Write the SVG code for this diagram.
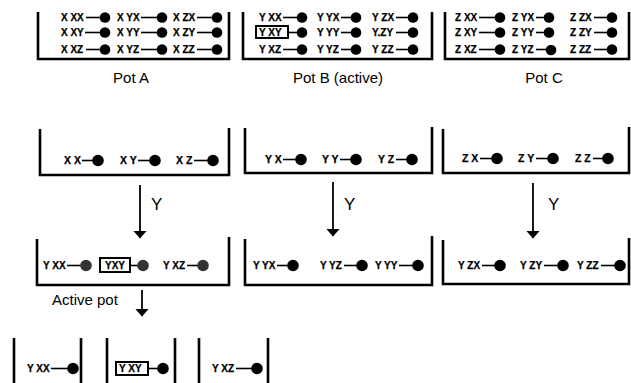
<svg xmlns="http://www.w3.org/2000/svg" width="631" height="383" viewBox="0 0 631 383">
<style>
.wall{fill:none;stroke:#000;stroke-width:2.6}
.t{font-family:"Liberation Sans",Arial,sans-serif;font-weight:bold;font-size:10px;fill:#000;stroke:#000;stroke-width:0.25}
.m{font-size:10.5px}
.ln{stroke:#000;stroke-width:1.6}
.dot{fill:#000}
.gdot{fill:#333}
.box{fill:none;stroke:#000;stroke-width:2}
.cap{font-family:"Liberation Sans",Arial,sans-serif;font-size:15px;fill:#000}
.yl{font-family:"Liberation Sans",Arial,sans-serif;font-size:17px;fill:#000}
.arr{stroke:#000;stroke-width:1.8}
</style>
<defs>
<marker id="ah" viewBox="0 0 8 14" refX="7.5" refY="7" markerWidth="8" markerHeight="14" markerUnits="userSpaceOnUse" orient="auto">
<path d="M0,0 L8,7 L0,14 Z" fill="#000"/>
</marker>
</defs>
<rect width="631" height="383" fill="#fff"/>

<!-- Pot A -->
<g id="potA">
<path class="wall" d="M38,12 V59 H229 V12"/>
<text class="t" x="61" y="21">X XX</text><line class="ln" x1="86" y1="17.5" x2="105" y2="17.5"/><circle class="dot" cx="105" cy="17.5" r="5.3"/>
<text class="t" x="61" y="36">X XY</text><line class="ln" x1="85" y1="32.5" x2="105" y2="32.5"/><circle class="dot" cx="105" cy="32.5" r="5.3"/>
<text class="t" x="61" y="53">X XZ</text><line class="ln" x1="86" y1="49.5" x2="105" y2="49.5"/><circle class="dot" cx="105" cy="49.5" r="5.3"/>
<text class="t" x="117" y="21">X YX</text><line class="ln" x1="141" y1="17.5" x2="162" y2="17.5"/><circle class="dot" cx="162" cy="17.5" r="5.3"/>
<text class="t" x="117" y="36">X YY</text><line class="ln" x1="141" y1="32.5" x2="162" y2="32.5"/><circle class="dot" cx="162" cy="32.5" r="5.3"/>
<text class="t" x="117" y="53">X YZ</text><line class="ln" x1="141" y1="49.5" x2="162" y2="49.5"/><circle class="dot" cx="162" cy="49.5" r="5.3"/>
<text class="t" x="173" y="21">X ZX</text><line class="ln" x1="197" y1="17.5" x2="217" y2="17.5"/><circle class="dot" cx="217" cy="17.5" r="5.3"/>
<text class="t" x="173" y="36">X ZY</text><line class="ln" x1="197" y1="32.5" x2="217" y2="32.5"/><circle class="dot" cx="217" cy="32.5" r="5.3"/>
<text class="t" x="173" y="53">X ZZ</text><line class="ln" x1="197" y1="49.5" x2="217" y2="49.5"/><circle class="dot" cx="217" cy="49.5" r="5.3"/>
<text class="cap" x="131" y="83" text-anchor="middle">Pot A</text>
</g>

<!-- Pot B -->
<g id="potB">
<path class="wall" d="M243,12 V59 H432 V12"/>
<text class="t" x="259" y="21">Y XX</text><line class="ln" x1="283" y1="17.5" x2="302" y2="17.5"/><circle class="dot" cx="302" cy="17.5" r="5.3"/>
<rect class="box" x="256" y="26" width="32" height="12"/>
<text class="t" x="259" y="36">Y XY</text><line class="ln" x1="289" y1="32.5" x2="302" y2="32.5"/><circle class="dot" cx="302" cy="32.5" r="5.3"/>
<text class="t" x="259" y="53">Y XZ</text><line class="ln" x1="283" y1="49.5" x2="302" y2="49.5"/><circle class="dot" cx="302" cy="49.5" r="5.3"/>
<text class="t" x="317" y="21">Y YX</text><line class="ln" x1="341" y1="17.5" x2="356" y2="17.5"/><circle class="dot" cx="356" cy="17.5" r="5.3"/>
<text class="t" x="317" y="36">Y YY</text><line class="ln" x1="341" y1="32.5" x2="356" y2="32.5"/><circle class="dot" cx="356" cy="32.5" r="5.3"/>
<text class="t" x="317" y="53">Y YZ</text><line class="ln" x1="341" y1="49.5" x2="356" y2="49.5"/><circle class="dot" cx="356" cy="49.5" r="5.3"/>
<text class="t" x="372" y="21">Y ZX</text><line class="ln" x1="396" y1="17.5" x2="413" y2="17.5"/><circle class="dot" cx="413" cy="17.5" r="5.3"/>
<text class="t" x="372" y="36">Y.ZY</text><line class="ln" x1="396" y1="32.5" x2="413" y2="32.5"/><circle class="dot" cx="413" cy="32.5" r="5.3"/>
<text class="t" x="372" y="53">Y ZZ</text><line class="ln" x1="396" y1="49.5" x2="413" y2="49.5"/><circle class="dot" cx="413" cy="49.5" r="5.3"/>
<text class="cap" x="338" y="83" text-anchor="middle">Pot B (active)</text>
</g>

<!-- Pot C -->
<g id="potC">
<path class="wall" d="M445,12 V59 H629 V12"/>
<text class="t" x="455" y="21">Z XX</text><line class="ln" x1="479" y1="17.5" x2="500" y2="17.5"/><circle class="dot" cx="500" cy="17.5" r="5.3"/>
<text class="t" x="455" y="36">Z XY</text><line class="ln" x1="479" y1="32.5" x2="500" y2="32.5"/><circle class="dot" cx="500" cy="32.5" r="5.3"/>
<text class="t" x="455" y="53">Z XZ</text><line class="ln" x1="479" y1="49.5" x2="500" y2="49.5"/><circle class="dot" cx="500" cy="49.5" r="5.3"/>
<text class="t" x="512" y="21">Z YX</text><line class="ln" x1="536" y1="17.5" x2="549" y2="17.5"/><circle class="dot" cx="549" cy="17.5" r="5.3"/>
<text class="t" x="512" y="36">Z YY</text><line class="ln" x1="536" y1="32.5" x2="549" y2="32.5"/><circle class="dot" cx="549" cy="32.5" r="5.3"/>
<text class="t" x="512" y="53">Z YZ</text><line class="ln" x1="536" y1="49.5" x2="551" y2="49.5"/><circle class="dot" cx="551" cy="50" r="5.3"/>
<text class="t" x="570" y="21">Z ZX</text><line class="ln" x1="594" y1="17.5" x2="612" y2="17.5"/><circle class="dot" cx="612" cy="17.5" r="5.3"/>
<text class="t" x="570" y="36">Z ZY</text><line class="ln" x1="594" y1="32.5" x2="612" y2="32.5"/><circle class="dot" cx="612" cy="32.5" r="5.3"/>
<text class="t" x="570" y="53">Z ZZ</text><line class="ln" x1="594" y1="49.5" x2="612" y2="49.5"/><circle class="dot" cx="612" cy="49.5" r="5.3"/>
<text class="cap" x="544" y="83" text-anchor="middle">Pot C</text>
</g>

<!-- Middle row -->
<g id="potX">
<path class="wall" d="M40,129 V175 H229 V128"/>
<text class="t m" x="64" y="164">X X</text><line class="ln" x1="82" y1="160.5" x2="98" y2="160.5"/><circle class="dot" cx="98" cy="160.5" r="5.8"/>
<text class="t m" x="120" y="164">X Y</text><line class="ln" x1="138" y1="160.5" x2="155" y2="160.5"/><circle class="dot" cx="155" cy="160.5" r="5.8"/>
<text class="t m" x="176" y="164">X Z</text><line class="ln" x1="194" y1="160.5" x2="213" y2="160.5"/><circle class="dot" cx="213" cy="160.5" r="5.8"/>
</g>
<g id="potY">
<path class="wall" d="M245,128 V173 H432 V127"/>
<text class="t m" x="265" y="163">Y X</text><line class="ln" x1="283" y1="159.5" x2="301" y2="159.5"/><circle class="dot" cx="301" cy="159.5" r="5.8"/>
<text class="t m" x="322" y="163">Y Y</text><line class="ln" x1="340" y1="159.5" x2="356" y2="159.5"/><circle class="dot" cx="356" cy="159.5" r="5.8"/>
<text class="t m" x="378" y="163">Y Z</text><line class="ln" x1="396" y1="159.5" x2="412" y2="159.5"/><circle class="dot" cx="412" cy="159.5" r="5.8"/>
</g>
<g id="potZ">
<path class="wall" d="M443,129 V173 H629 V127"/>
<text class="t m" x="462" y="162">Z X</text><line class="ln" x1="480" y1="158.5" x2="497" y2="158.5"/><circle class="dot" cx="497" cy="158.5" r="5.8"/>
<text class="t m" x="518" y="162">Z Y</text><line class="ln" x1="536" y1="158.5" x2="553" y2="158.5"/><circle class="dot" cx="553" cy="158.5" r="5.8"/>
<text class="t m" x="575" y="162">Z Z</text><line class="ln" x1="593" y1="158.5" x2="608" y2="158.5"/><circle class="dot" cx="608" cy="158.5" r="5.8"/>
</g>

<!-- Lower row -->
<g id="potYX">
<path class="wall" d="M37,239 V285 H229 V237"/>
<text class="t" x="43" y="269">Y XX</text><line class="ln" x1="67" y1="265.5" x2="86" y2="265.5"/><circle class="gdot" cx="86" cy="265.5" r="5.8"/>
<rect class="box" x="100" y="258" width="30" height="14"/>
<text class="t" x="115" y="269" text-anchor="middle">YXY</text><line class="ln" x1="130" y1="265.5" x2="143" y2="265.5"/><circle class="gdot" cx="143" cy="265.5" r="5.8"/>
<text class="t" x="163" y="269">Y XZ</text><line class="ln" x1="187" y1="265.5" x2="203" y2="265.5"/><circle class="gdot" cx="203" cy="265.5" r="5.8"/>
<text class="cap" x="52" y="305" font-size="16">Active pot</text>
</g>
<g id="potYY">
<path class="wall" d="M245,239 V285 H432 V236"/>
<text class="t" x="253" y="269">Y YX</text><line class="ln" x1="277" y1="265.5" x2="293" y2="265.5"/><circle class="dot" cx="293" cy="265.5" r="5.8"/>
<text class="t" x="320" y="269">Y YZ</text><line class="ln" x1="344" y1="265.5" x2="362" y2="265.5"/><circle class="dot" cx="362" cy="265.5" r="5.8"/>
<text class="t" x="375" y="269">Y YY</text><line class="ln" x1="399" y1="265.5" x2="418" y2="265.5"/><circle class="dot" cx="418" cy="265.5" r="5.8"/>
</g>
<g id="potYZ">
<path class="wall" d="M443,240 V284 H629 V238"/>
<text class="t" x="458" y="269">Y ZX</text><line class="ln" x1="482" y1="265.5" x2="500" y2="265.5"/><circle class="dot" cx="500" cy="265.5" r="5.8"/>
<text class="t" x="520" y="269">Y ZY</text><line class="ln" x1="544" y1="265.5" x2="563" y2="265.5"/><circle class="dot" cx="563" cy="265.5" r="5.8"/>
<text class="t" x="577" y="269">Y ZZ</text><line class="ln" x1="601" y1="265.5" x2="620" y2="265.5"/><circle class="dot" cx="620" cy="265.5" r="5.8"/>
</g>

<!-- Bottom cups -->
<g id="cupYXX">
<path class="wall" d="M14,338 V383 M81,338 V383"/>
<text class="t" x="27" y="372">Y XX</text><line class="ln" x1="51" y1="368.5" x2="73" y2="368.5"/><circle class="dot" cx="73" cy="368.5" r="5.8"/>
</g>
<g id="cupYXY">
<path class="wall" d="M107,338 V383 M175,338 V383"/>
<rect class="box" x="116" y="362" width="32" height="13"/>
<text class="t" x="119" y="372">Y XY</text><line class="ln" x1="149" y1="368.5" x2="163" y2="368.5"/><circle class="dot" cx="163" cy="368.5" r="5.8"/>
</g>
<g id="cupYXZ">
<path class="wall" d="M199,338 V383 M268,338 V383"/>
<text class="t" x="212" y="372">Y XZ</text><line class="ln" x1="236" y1="368.5" x2="257" y2="368.5"/><circle class="dot" cx="257" cy="368.5" r="5.8"/>
</g>

<!-- Connectors -->
<g id="connectors">
<line class="arr" x1="140" y1="185" x2="140" y2="238" marker-end="url(#ah)"/>
<text class="yl" x="151" y="210">Y</text>
<line class="arr" x1="333" y1="182" x2="333" y2="236" marker-end="url(#ah)"/>
<text class="yl" x="344" y="210">Y</text>
<line class="arr" x1="533" y1="183" x2="533" y2="238" marker-end="url(#ah)"/>
<text class="yl" x="548" y="210">Y</text>
<line class="arr" x1="142" y1="290" x2="142" y2="316" marker-end="url(#ah)"/>
</g>
</svg>
